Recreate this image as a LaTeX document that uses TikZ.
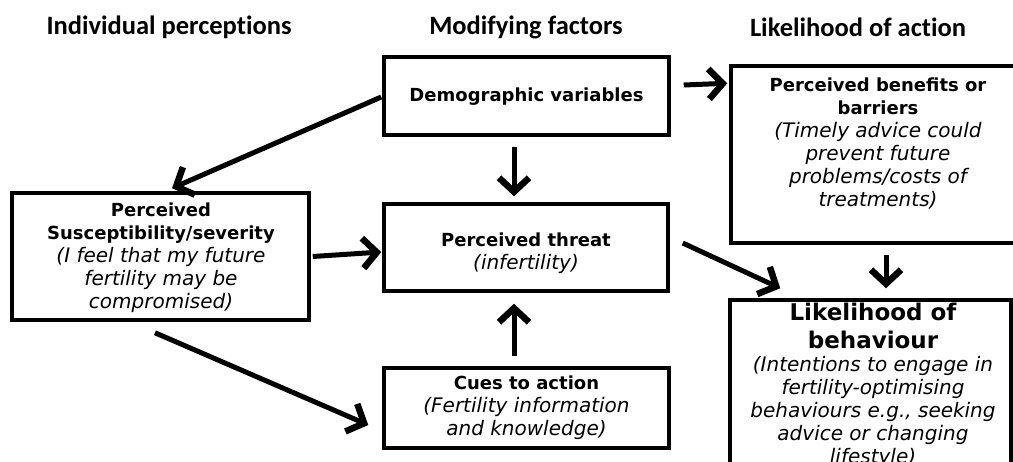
\documentclass[tikz,border=0pt]{standalone}
\usepackage{fontspec}
\setmainfont{DejaVu Sans}
\newfontfamily\hdfont{Carlito}[Ligatures=NoCommon]
\usetikzlibrary{arrows.meta,calc}
\newcommand\bsz{\fontsize{18}{23}\selectfont\bfseries}
\newcommand\hsz{\fontsize{23}{28}\selectfont\bfseries}
\begin{document}
\begin{tikzpicture}[x=1pt,y=-1pt,
  box/.style={draw, line width=3.5pt, rectangle, inner sep=0pt},
  txt/.style={align=center, inner sep=0pt, font=\fontsize{20}{23}\selectfont},
  hd/.style={font=\hdfont\bfseries\fontsize{26.5}{30}\selectfont, inner sep=0pt},
  arr/.style={line width=5pt, -{Straight Barb[length=14pt,width=30pt,line width=6.5pt]}}
]
\useasboundingbox (0,0) rectangle (1013,461);
\clip (0,0) rectangle (1013,461);

% headers
\node[hd] (h1) at (169,27) {Individual perceptions};
\node[hd] (h2) at (526,27) {Modifying factors};
\node[hd] (h3) at (858,27) {Likelihood of action};

% boxes
\node[box, minimum width=285pt, minimum height=78pt] (demo) at (526.5,96) {};
\node[box, minimum width=284pt, minimum height=87pt] (threat) at (526,247.5) {};
\node[box, minimum width=285pt, minimum height=80pt] (cues) at (526.5,408) {};
\node[box, minimum width=297pt, minimum height=127pt] (susc) at (160.5,256.5) {};
\node[box, minimum width=299pt, minimum height=177pt] (ben) at (880.5,154.5) {};
\node[box, minimum width=281pt, minimum height=200pt] (like) at (870.5,400) {};

% texts
\node[txt] (demoT) at (526.5,97) {\bsz Demographic variables};
\node[txt] (threatT) at (526,253) {{\bsz Perceived threat}\\\itshape (infertility)};
\node[txt] (cuesT) at (526.5,408) {{\bsz Cues to action}\\\itshape (Fertility information\\\itshape and knowledge)};
\node[txt] (suscT) at (161,257.5) {{\bsz Perceived}\\{\bsz Susceptibility/severity}\\\itshape (I feel that my future\\\itshape fertility may be\\\itshape compromised)};
\node[txt] (benT) at (878,143) {{\bsz Perceived benefits or}\\{\bsz barriers}\\\itshape (Timely advice could\\\itshape prevent future\\\itshape problems/costs of\\\itshape treatments)};
\node[txt] (likeT) at (873,385) {{\hsz Likelihood of}\\[5pt]{\hsz behaviour}\\\itshape (Intentions to engage in\\\itshape fertility-optimising\\\itshape behaviours e.g., seeking\\\itshape advice or changing\\\itshape lifestyle)};

% arrows
\draw[arr] ($(demo.east)+(13,-11)$) -- ($(ben.north west)+(-2,19)$);
\draw[arr] ($(demo.south)+(-12.5,10)$) -- ($(threat.north)+(-12,-6)$);
\draw[arr] ($(cues.north)+(-12.5,-10)$) -- ($(threat.south)+(-12,11)$);
\draw[arr] ($(demo.west)+(-1,1)$) -- ($(susc.north)+(11.5,-3)$);
\draw[arr] ($(susc.east)+(2,0)$) -- ($(threat.west)+(-1,4.5)$);
\draw[arr] ($(susc.south)+(-5.5,11)$) -- ($(cues.west)+(-14,17)$);
\draw[arr] ($(threat.east)+(13,-4.5)$) -- ($(like.north west)+(52,-10)$);
\draw[arr] ($(ben.south)+(5.5,10)$) -- ($(like.north)+(15.5,-10)$);
\end{tikzpicture}
\end{document}
